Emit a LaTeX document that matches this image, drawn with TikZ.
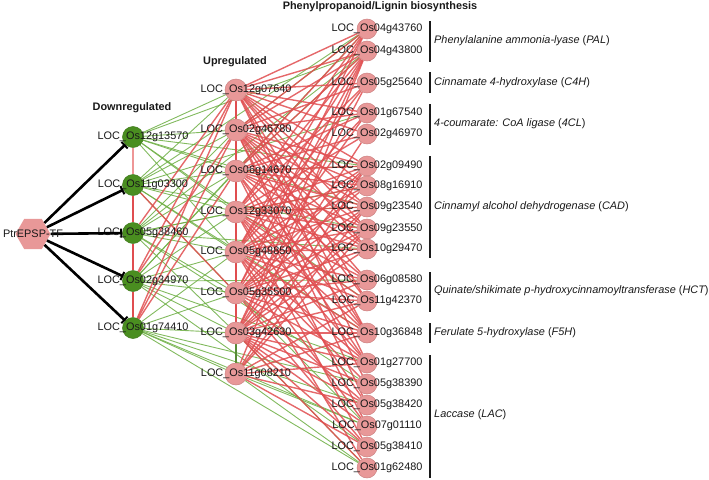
\documentclass[tikz,border=0pt]{standalone}
\usepackage{fontspec}
\setmainfont{Liberation Sans}
\usetikzlibrary{arrows.meta,
                backgrounds,
                shapes.geometric}
\definecolor{posred}{RGB}{224,78,80}
\definecolor{lightred}{RGB}{238,150,150}
\definecolor{neggreen}{RGB}{108,174,66}
\definecolor{downgreen}{RGB}{74,142,32}
\definecolor{nodepink}{RGB}{232,152,152}
\definecolor{pinkline}{RGB}{205,130,130}
\definecolor{txt}{RGB}{25,25,25}
\newcommand{\genefont}{\fontsize{10.9}{12}\selectfont}
\tikzset{
        base/.style={circle, draw, inner sep=0pt, line width=0.5pt},
        down/.style={base, fill=downgreen, draw=downgreen!85!black,
                     minimum size=21pt},
        up/.style={base, fill=nodepink, draw=pinkline, minimum size=22pt},
        lig/.style={base, fill=nodepink, draw=pinkline, minimum size=20pt},
        gene/.style={label={[xshift=10pt, inner sep=0pt, text=txt,
                     font=\genefont]center:LOC\_#1}},
        hexa/.style={regular polygon, regular polygon sides=6,
                     fill=nodepink, minimum size=35pt, inner sep=0pt},
        title/.style={font=\genefont\bfseries, text=txt, inner sep=0pt},
        group/.style={font=\genefont\itshape, text=txt, anchor=west,
                      inner sep=0pt},
        brk/.style={line width=1.6pt, draw=txt},
        inhib/.style={-{Bar[width=9pt, line width=2pt]}, line width=2.6pt},
        posedge/.style={draw=posred, line width=1.4pt, opacity=0.85},
        negedge/.style={draw=neggreen, line width=0.9pt, opacity=0.85},
 }

\begin{document}
\begin{tikzpicture}[x=1pt, y=-1pt]
    \useasboundingbox (0,0) rectangle (709,479);

    % titles
    \node[title] (tdown) at (132,108) {Downregulated};
    \node[title] (tup) at (235,62) {Upregulated};
    \node[title] (tlig) at (380,7) {Phenylpropanoid/Lignin biosynthesis};

    % transcription factor
    \node[hexa] (tf) at (33,234) {};

    % downregulated genes
    \node[down, gene=Os12g13570] (d1) at (133,137) {};
    \node[down, gene=Os11g03300] (d2) at (133,185) {};
    \node[down, gene=Os05g38460] (d3) at (133,233) {};
    \node[down, gene=Os02g34970] (d4) at (133,281) {};
    \node[down, gene=Os01g74410] (d5) at (133,328) {};

    % upregulated genes
    \node[up, gene=Os12g07640] (u1) at (236,90) {};
    \node[up, gene=Os02g46780] (u2) at (236,130) {};
    \node[up, gene=Os06g14670] (u3) at (236,171) {};
    \node[up, gene=Os12g33070] (u4) at (236,212) {};
    \node[up, gene=Os05g48850] (u5) at (236,252) {};
    \node[up, gene=Os05g35500] (u6) at (236,293) {};
    \node[up, gene=Os03g42630] (u7) at (236,333) {};
    \node[up, gene=Os11g08210] (u8) at (236,374) {};

    % lignin biosynthesis genes
    \node[lig, gene=Os04g43760] (l1) at (367,29) {};
    \node[lig, gene=Os04g43800] (l2) at (367,51) {};
    \node[lig, gene=Os05g25640] (l3) at (367,83) {};
    \node[lig, gene=Os01g67540] (l4) at (367,113) {};
    \node[lig, gene=Os02g46970] (l5) at (367,134) {};
    \node[lig, gene=Os02g09490] (l6) at (367,166) {};
    \node[lig, gene=Os08g16910] (l7) at (367,186) {};
    \node[lig, gene=Os09g23540] (l8) at (367,207) {};
    \node[lig, gene=Os09g23550] (l9) at (367,229) {};
    \node[lig, gene=Os10g29470] (l10) at (367,249) {};
    \node[lig, gene=Os06g08580] (l11) at (367,280) {};
    \node[lig, gene=Os11g42370] (l12) at (367,301) {};
    \node[lig, gene=Os10g36848] (l13) at (367,333) {};
    \node[lig, gene=Os01g27700] (l14) at (367,363) {};
    \node[lig, gene=Os05g38390] (l15) at (367,384) {};
    \node[lig, gene=Os05g38420] (l16) at (367,405) {};
    \node[lig, gene=Os07g01110] (l17) at (367,426) {};
    \node[lig, gene=Os05g38410] (l18) at (367,447) {};
    \node[lig, gene=Os01g62480] (l19) at (367,468) {};

    % enzyme groups
    \node[group] (pal) at (434,41) {Phenylalanine ammonia-lyase \upshape(\itshape PAL\upshape)};
    \node[group] (c4h) at (434,83) {Cinnamate 4-hydroxylase \upshape(\itshape C4H\upshape)};
    \node[group] (fcl) at (434,124) {4-coumarate: CoA ligase \upshape(\itshape 4CL\upshape)};
    \node[group] (cad) at (434,207) {Cinnamyl alcohol dehydrogenase \upshape(\itshape CAD\upshape)};
    \node[group] (hct) at (434,291) {Quinate/shikimate p-hydroxycinnamoyltransferase \upshape(\itshape HCT\upshape)};
    \node[group] (f5h) at (434,333) {Ferulate 5-hydroxylase \upshape(\itshape F5H\upshape)};
    \node[group] (lac) at (434,415) {Laccase \upshape(\itshape LAC\upshape)};

    \draw[brk] (430,21) -- (430,62);
    \draw[brk] (430,72) -- (430,93);
    \draw[brk] (430,104) -- (430,145);
    \draw[brk] (430,156) -- (430,258);
    \draw[brk] (430,272) -- (430,312);
    \draw[brk] (430,323) -- (430,343);
    \draw[brk] (430,355) -- (430,478);

    \begin{scope}[on background layer]
    % negative correlations
    \foreach \d/\ls in {1/{1,2,3,4,5}, 2/{1,2,3,4,5,6}, 3/{2,3,4,5,6,7},
                        4/{3,4,5,6,7}, 5/{5,6,7,8}}
        {\foreach \u in \ls {\draw[negedge] (d\d) -- (u\u);}}
    \foreach \d/\ls in {1/{2,6,8,12}, 2/{1,4,9,13}, 3/{2,7,10,15},
                        4/{1,11,14,18}, 5/{15,16,17,19}}
        {\foreach \l in \ls {\draw[negedge] (d\d) -- (l\l);}}
    \foreach \u/\ls in {2/{1}, 3/{2,6}, 4/{8}, 6/{17}, 7/{19}, 8/{17,19}}
        {\foreach \l in \ls {\draw[negedge] (u\u) -- (l\l);}}

    % positive correlations
    \foreach \d/\u in {5/1, 5/2, 4/1, 4/2, 3/1, 2/6, 5/3}
        {\draw[posedge] (d\d) -- (u\u);}
    \foreach \u/\ls in {1/{1,2,3,4,5,6,7,8,9,10,12,13,14},
                        2/{1,2,3,4,6,7,8,9,10,11,12,13,15,16},
                        3/{1,2,4,5,6,7,8,9,10,11,13,14,17},
                        4/{1,2,3,5,6,7,8,9,10,11,12,13,14,16,18},
                        5/{1,2,3,4,6,7,8,9,10,11,12,13,14,15,17,19},
                        6/{1,2,4,6,7,8,9,10,11,12,13,14,16,18},
                        7/{2,3,5,6,8,9,10,11,12,13,14,15,16,17,18,19},
                        8/{2,6,8,9,12,13,14,16,18}}
        {\foreach \l in \ls {\draw[posedge] (u\u) -- (l\l);}}

    % within columns
    \draw[lightred, line width=1.4pt] (d1) -- (d2);
    \draw[posred, line width=1.6pt] (d2) -- (d3) -- (d4) -- (d5);
    \draw[posred, line width=2pt] (u1) -- (u2) -- (u3) -- (u4)
                                  -- (u5) -- (u6) -- (u7);
    \draw[neggreen!80!black, line width=1.6pt] (u7) -- (u8);
    \end{scope}

    % repression by the TF
    \foreach \d in {1,...,5}
        {\draw[inhib] (tf) -- (d\d);}
    \node[font=\genefont, text=txt, inner sep=0pt] (tft) at (tf) {PtrEPSP-TF};

\end{tikzpicture}
\end{document}
